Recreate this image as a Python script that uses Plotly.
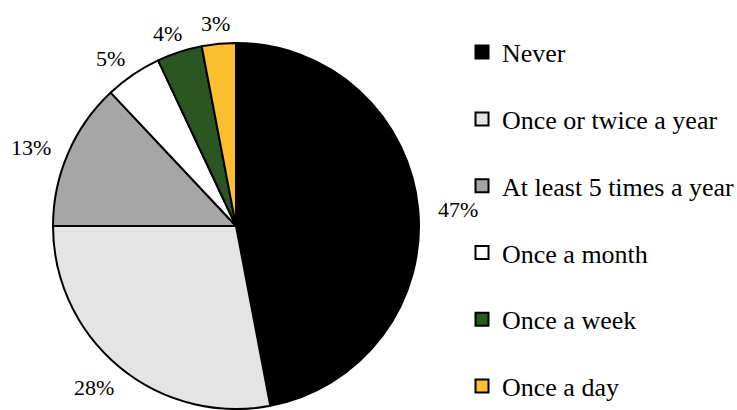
import math
import plotly.graph_objects as go

categories = ["Never", "Once or twice a year", "At least 5 times a year",
              "Once a month", "Once a week", "Once a day"]
values = [47, 28, 13, 5, 4, 3]
colors = ["#000000", "#E4E4E4", "#A6A6A6", "#FFFFFF", "#2B5621", "#FDBF30"]

W, H = 737, 410
cx, cy, R = 236, 226, 183  # pixel geometry of pie

fig = go.Figure()
fig.add_trace(go.Pie(
    labels=categories, values=values, sort=False, direction="clockwise",
    rotation=0, textinfo="none", hoverinfo="label+percent",
    marker=dict(colors=colors, line=dict(color="#000000", width=2)),
    domain=dict(x=[(cx - R) / W, (cx + R) / W],
                y=[(H - cy - R) / H, (H - cy + R) / H]),
    showlegend=False,
))

# legend entries
for cat, col in zip(categories, colors):
    fig.add_trace(go.Scatter(
        x=[None], y=[None], mode="markers", name=cat, legendgroup=cat,
        marker=dict(symbol="square", size=13, color=col,
                    line=dict(color="#000000", width=2)),
    ))

# percentage labels placed outside each slice
total = sum(values)
cum = 0
annotations = []
for v in values:
    mid = (cum + v / 2) / total * 2 * math.pi
    cum += v
    dx, dy = math.sin(mid), math.cos(mid)
    rr = R + 14
    px = cx + dx * rr + dx * 26
    py = cy - dy * rr - dy * 9 + 3
    annotations.append(dict(
        x=px / W, y=1 - py / H, xref="paper", yref="paper",
        text=f"{round(v / total * 100)}%", showarrow=False,
        xanchor="center", yanchor="middle",
        font=dict(family="Liberation Serif", size=22, color="#000000"),
    ))

fig.update_layout(
    width=W, height=H,
    margin=dict(l=0, r=0, t=0, b=0, autoexpand=False),
    paper_bgcolor="#FFFFFF", plot_bgcolor="#FFFFFF",
    xaxis=dict(visible=False), yaxis=dict(visible=False),
    annotations=annotations,
    legend=dict(x=462 / W, y=0.93, xanchor="left", yanchor="top",
                font=dict(family="Liberation Serif", size=26, color="#000000"),
                tracegroupgap=30, bgcolor="rgba(0,0,0,0)"),
    showlegend=True,
)

fig.write_html("out.html",
               config={"displayModeBar": False},
               post_script="document.body.style.margin='0';"
                           "document.body.style.overflow='hidden';")
